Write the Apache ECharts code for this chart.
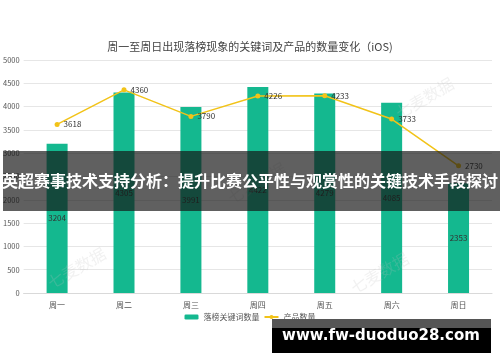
<!DOCTYPE html>
<html>
<head>
<meta charset="utf-8">
<script src="https://cdn.jsdelivr.net/npm/echarts@6/dist/echarts.min.js"></script>
<style>html,body{margin:0;padding:0;background:#fff;}#c{width:500px;height:362px;}</style>
</head>
<body>
<div id="c"></div>
<script>
var categories = ['周一','周二','周三','周四','周五','周六','周日'];
var keywordCounts = [3204, 4305, 3991, 4422, 4279, 4085, 2353];
var productCounts = [3618, 4360, 3790, 4226, 4233, 3733, 2730];
var yTicks = [0, 500, 1000, 1500, 2000, 2500, 3000, 3500, 4000, 4500, 5000];
var titleText = '周一至周日出现落榜现象的关键词及产品的数量变化（iOS)';
var seriesNames = ['落榜关键词数量', '产品数量'];
var bannerText = '英超赛事技术支持分析：提升比赛公平性与观赏性的关键技术手段探讨';
var siteText = 'www.fw-duoduo28.com';
var watermarkText = '七麦数据';

var FONT = '"Noto Sans CJK SC", "Noto Sans", sans-serif';
var chart = echarts.init(document.getElementById('c'), null, {renderer: 'canvas'});
var wm = function (l, t) {
  return {type: 'text', left: l, top: t, rotation: Math.PI / 6, z: 5, silent: true,
    style: {text: watermarkText, font: '16px ' + FONT, fill: 'rgba(190,190,190,0.22)'}};
};
chart.setOption({
  animation: false,
  textStyle: {fontFamily: FONT},
  title: {
    text: titleText, left: 'center', top: 36,
    textStyle: {fontSize: 11, fontWeight: 'normal', color: '#444', fontFamily: FONT}
  },
  legend: {
    data: seriesNames, bottom: 36, left: 'center',
    itemWidth: 14, itemHeight: 5, itemGap: 4,
    textStyle: {fontSize: 8, color: '#555'}
  },
  grid: {left: 22, right: 8, top: 60, bottom: 69, containLabel: false},
  xAxis: {
    type: 'category', data: categories,
    axisTick: {show: false},
    axisLine: {lineStyle: {color: '#d9d9d9'}},
    axisLabel: {fontSize: 8, color: '#555', margin: 8}
  },
  yAxis: {
    type: 'value', min: yTicks[0], max: yTicks[yTicks.length - 1], interval: 500,
    axisLine: {show: false}, axisTick: {show: false},
    axisLabel: {fontSize: 7.5, color: '#555', margin: 4, formatter: function (v) { return String(v); }},
    splitLine: {lineStyle: {color: '#e6e6e6'}}
  },
  series: [
    {
      name: seriesNames[0], type: 'bar', data: keywordCounts, barWidth: 21,
      itemStyle: {color: '#14B88F'},
      label: {show: true, position: 'inside', fontSize: 8, color: '#333'}
    },
    {
      name: seriesNames[1], type: 'line', data: productCounts,
      symbol: 'circle', symbolSize: 5,
      lineStyle: {color: '#F2C318', width: 1.5},
      itemStyle: {color: '#F2C318'},
      label: {show: true, position: 'right', fontSize: 8, color: '#333', distance: 4}
    }
  ],
  graphic: [
    wm(45, 245), wm(348, 250), wm(393, 75), wm(225, 160),
    {type: 'rect', shape: {x: 3, y: 151, width: 497, height: 60}, z: 100, silent: true,
      style: {fill: 'rgba(20,20,20,0.68)'}},
    {type: 'text', x: 250, y: 181, z: 101, silent: true,
      style: {text: bannerText, font: 'bold 16px ' + FONT, fill: '#fff', textAlign: 'center', textVerticalAlign: 'middle'}},
    {type: 'rect', shape: {x: 272, y: 319, width: 219, height: 9}, z: 100, silent: true,
      style: {fill: '#555'}},
    {type: 'rect', shape: {x: 272, y: 328, width: 219, height: 25}, z: 100, silent: true,
      style: {fill: '#000'}},
    {type: 'text', x: 381, y: 336, z: 101, silent: true,
      style: {text: siteText, font: 'bold 15px "DejaVu Sans", sans-serif', fill: '#fff', textAlign: 'center', textVerticalAlign: 'middle'}}
  ]
});
</script>
</body>
</html>
